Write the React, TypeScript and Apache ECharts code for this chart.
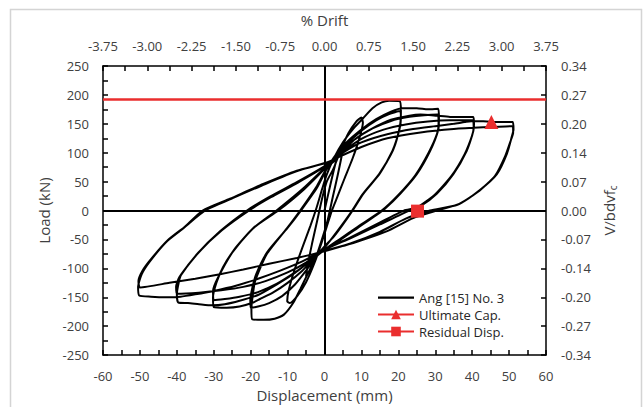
import React, { useEffect, useRef } from "react";
import * as echarts from "echarts";

// ---- data (displacement mm, load kN) ----
const cycle05: [number, number][] = [
  [0, 0], [1.5, 42], [3, 82], [4.3, 104], [5, 112], [4.7, 96], [3.6, 62], [2.2, 22], [0.8, -18],
  [-0.8, -52], [-2.5, -84], [-4, -104], [-5, -114], [-4.6, -96], [-3.4, -58], [-2, -18], [-0.6, 22], [0.6, 50],
];
const cycle10: [number, number][] = [
  [2.4, 72], [4.5, 106], [6.5, 134], [8.5, 153], [10, 161], [10.4, 152], [9.4, 124], [7.6, 90], [5.4, 55],
  [3.5, 24], [2, 0], [0.6, -28], [-0.8, -56], [-2.8, -92], [-5, -124], [-7.4, -148], [-9.4, -160],
  [-10.1, -157], [-9.7, -138], [-8.2, -104], [-6, -64], [-3.8, -26], [-2.2, 4], [-0.6, 38], [0.6, 62],
];
const cycle20a: [number, number][] = [
  [2.5, 90], [5, 118], [8, 143], [10.5, 160], [13, 177], [15.5, 187], [17.5, 190], [20.4, 189], [20.7, 172],
  [20.4, 145], [18.6, 105], [15, 64], [10.5, 29], [7.8, 2], [5, -24], [2.4, -46], [0, -62], [-2, -78],
  [-4.2, -105], [-6.5, -135], [-8.5, -160], [-11, -180], [-13.5, -187], [-16.5, -189], [-19.6, -188],
  [-19.8, -170], [-19.4, -145], [-18.8, -122], [-15.7, -76], [-10.2, -31], [-6.6, 0], [-2, 43], [0.6, 73],
];
const cycle20b: [number, number][] = [
  [3, 88], [6, 114], [10, 138], [14, 156], [17.5, 167], [20.5, 172], [20.7, 160], [20.3, 140], [18.4, 103],
  [14.8, 63], [10.3, 28], [7.5, 0], [4.6, -26], [2, -48], [-0.5, -68], [-2.5, -82], [-5, -104], [-8, -128],
  [-11.5, -148], [-15, -160], [-18, -166], [-20, -168], [-20.1, -155], [-19.6, -135], [-18.5, -110],
  [-15.5, -72], [-10, -30], [-6.4, 0], [-2, 40], [0.6, 72],
];
const cycle30a: [number, number][] = [
  [3, 96], [6, 118], [10, 140], [14, 158], [18, 171], [21, 177], [25, 177], [28, 175], [30.8, 176],
  [31, 160], [30.8, 139], [28.6, 103], [25, 63], [20.5, 29], [16.5, 4], [14, -8], [9, -30], [4, -52],
  [0, -68], [-3, -84], [-6, -104], [-10, -125], [-14, -142], [-17.5, -153], [-19.7, -160], [-23, -166],
  [-26.5, -168], [-30, -167], [-30.2, -150], [-29.3, -125], [-27.5, -98], [-24.8, -71], [-19.4, -31],
  [-13, 0], [-5.8, 38], [0.6, 77],
];
const cycle30b: [number, number][] = [
  [4, 96], [8, 122], [13, 142], [18, 155], [23, 162], [27, 165], [30.7, 166], [30.9, 152], [30.5, 133],
  [28.2, 100], [24.6, 61], [20, 27], [15.5, 0], [9, -28], [4, -50], [-0.5, -70], [-4, -88], [-8, -107],
  [-13, -127], [-18, -141], [-23, -149], [-27, -153], [-30, -155], [-30.2, -140], [-29, -118],
  [-24.5, -68], [-19, -29], [-12.5, 0], [-5.5, 37], [0.6, 76],
];
const cycle40a: [number, number][] = [
  [4, 100], [8, 122], [13, 142], [18, 157], [23, 164], [26, 166], [30.4, 164], [34, 162], [37.5, 162],
  [40.3, 162], [40.5, 150], [40.3, 137], [38.5, 103], [34.9, 63], [30.4, 29], [25.9, 7], [23, 0],
  [15, -24], [7, -48], [0, -68], [-4, -88], [-8, -108], [-13, -128], [-18, -146], [-23, -156], [-27, -162],
  [-30.5, -164], [-34, -162], [-37, -160], [-39.6, -159], [-40, -145], [-39.5, -125], [-38.9, -112],
  [-34.6, -76], [-28.3, -36], [-21, 0], [-14.8, 24], [-7.5, 49], [0.6, 79],
];
const cycle40b: [number, number][] = [
  [5, 102], [10, 124], [16, 140], [22, 149], [28, 154], [34, 156], [40.2, 156], [40.4, 144], [40, 130],
  [38, 98], [34.4, 60], [29.8, 27], [25, 5], [21.5, 0], [14, -24], [6.5, -48], [-0.5, -69], [-5, -90],
  [-10, -107], [-16, -122], [-22, -132], [-28, -138], [-34, -142], [-40, -144], [-40.2, -132],
  [-39.3, -115], [-34.2, -73], [-27.8, -34], [-20.5, 0], [-14.5, 23], [-7.3, 48], [0.6, 78],
];
const cycle50a: [number, number][] = [
  [5, 100], [10, 118], [17, 132], [24, 141], [30, 146], [35, 150], [38, 153], [40.5, 155], [44, 154],
  [48, 153], [51, 153], [51.2, 140], [50.7, 127], [49.4, 98], [46.7, 63], [42, 35], [36.7, 12], [30.5, 0],
  [24, -13], [16.8, -36], [7.8, -56], [-1, -72], [-6, -88], [-12, -104], [-18, -118], [-24, -130],
  [-30, -139], [-35, -145], [-39, -149], [-43, -150], [-47, -149], [-50.2, -147], [-50.5, -132],
  [-49.5, -110], [-47.3, -88], [-42.8, -54], [-38.3, -31], [-33, 0], [-25.6, 20.5], [-16.6, 46],
  [-7.5, 69], [0.6, 83],
];
const cycle50b: [number, number][] = [
  [5, 96], [10, 110], [17, 125], [26, 135], [35, 141], [43, 144], [50.8, 146], [51.1, 134], [50.5, 122],
  [49, 95], [46.2, 60], [41.5, 32], [36, 10], [28.6, 0], [22, -14], [15, -37], [7, -57], [-1, -72],
  [-7.5, -82], [-15, -92], [-22, -102], [-28.3, -110], [-35, -118], [-42, -125], [-50, -133],
  [-50.4, -122], [-49.3, -104], [-47, -84], [-42.4, -51], [-37.8, -28], [-32.4, 0], [-25, 21],
  [-16, 46], [-7, 69], [0.5, 82],
];

const ultimateCap: [number, number][] = [[45.2, 153]];
const residualDisp: [number, number][] = [[25.2, -1]];
const capacityLine = 193;

const driftLabels = ["-3.75", "-3.00", "-2.25", "-1.50", "-0.75", "0.00", "0.75", "1.50", "2.25", "3.00", "3.75"];
const stressLabels = ["-0.34", "-0.27", "-0.20", "-0.14", "-0.07", "0.00", "0.07", "0.14", "0.20", "0.27", "0.34"];

const FONT = "'Open Sans', 'Noto Sans', sans-serif";
const TXT = "#404040";
const RED = "#ea2e2e";

export default function App() {
  const ref = useRef<HTMLDivElement>(null);
  useEffect(() => {
    document.body.style.margin = "0";
    if (!ref.current) return;
    const chart = echarts.init(ref.current, undefined, { renderer: "svg" });
    const hysteresis = [
      ...cycle05, ...cycle10, ...cycle20a, ...cycle20b, ...cycle30a, ...cycle30b,
      ...cycle40a, ...cycle40b, ...cycle50a, ...cycle50b,
    ];
    const tick = { show: true, inside: true, length: 5, lineStyle: { color: "#000", width: 1.5 } };
    const minor = { show: true, splitNumber: 2, length: 5, lineStyle: { color: "#000", width: 1.5 } };
    const axisLine = { show: true, onZero: false, lineStyle: { color: "#000", width: 1.5 } };
    const label = { color: TXT, fontSize: 13, fontFamily: FONT };
    const nameStyle = { color: TXT, fontSize: 15, fontFamily: FONT };
    chart.setOption({
      animation: false,
      backgroundColor: "#fff",
      textStyle: { fontFamily: FONT },
      graphic: [
        {
          type: "rect",
          shape: { x: 10.5, y: 9.5, width: 631, height: 430 },
          style: { fill: "none", stroke: "#d4d4d4", lineWidth: 1.5 },
          silent: true,
        },
      ],
      grid: { left: 103, right: 97, top: 66, bottom: 40, containLabel: false },
      legend: {
        orient: "vertical",
        left: 372,
        top: 286,
        itemWidth: 36,
        itemHeight: 12,
        itemGap: 4,
        textStyle: { fontSize: 13, color: "#262626", fontFamily: FONT },
        data: [
          { name: "Ang [15] No. 3", icon: "path://M0,0 M0,5 L36,5 L36,7.2 L0,7.2 Z M36,12" },
          "Ultimate Cap.",
          "Residual Disp.",
        ],
      },
      xAxis: [
        {
          type: "value",
          position: "bottom",
          min: -60,
          max: 60,
          interval: 10,
          name: "Displacement (mm)",
          nameLocation: "middle",
          nameGap: 30,
          nameTextStyle: nameStyle,
          axisLine,
          axisTick: tick,
          minorTick: minor,
          splitLine: { show: false },
          axisLabel: { ...label, margin: 14 },
        },
        {
          type: "value",
          position: "top",
          min: -60,
          max: 60,
          interval: 12,
          name: "% Drift",
          nameLocation: "middle",
          nameGap: 39,
          nameTextStyle: nameStyle,
          axisLine,
          axisTick: tick,
          minorTick: minor,
          splitLine: { show: false },
          axisLabel: { ...label, margin: 14, formatter: (_v: number, i: number) => driftLabels[i] ?? "" },
        },
      ],
      yAxis: [
        {
          type: "value",
          position: "left",
          min: -250,
          max: 250,
          interval: 50,
          name: "Load (kN)",
          nameLocation: "middle",
          nameGap: 50,
          nameRotate: 90,
          nameTextStyle: nameStyle,
          axisLine,
          axisTick: tick,
          minorTick: minor,
          splitLine: { show: false },
          axisLabel: { ...label, margin: 14 },
        },
        {
          type: "value",
          position: "right",
          min: -250,
          max: 250,
          interval: 50,
          name: "V/bdvf{s|c}",
          nameLocation: "middle",
          nameGap: 54,
          nameRotate: 90,
          nameTextStyle: {
            ...nameStyle,
            rich: { s: { fontSize: 10, color: TXT, fontFamily: FONT, padding: [7, 0, 0, 0] } },
          },
          axisLine,
          axisTick: tick,
          splitLine: { show: false },
          axisLabel: { ...label, margin: 15, formatter: (_v: number, i: number) => stressLabels[i] ?? "" },
        },
      ],
      series: [
        {
          name: "Ang [15] No. 3",
          type: "line",
          xAxisIndex: 0,
          yAxisIndex: 0,
          data: hysteresis,
          symbol: "none",
          smooth: 0.2,
          lineStyle: { color: "#000", width: 2 },
          itemStyle: { color: "#000" },
          markLine: {
            silent: true,
            symbol: ["none", "none"],
            label: { show: false },
            data: [
              { xAxis: 0, lineStyle: { color: "#000", width: 2, type: "solid" } },
              { yAxis: 0, lineStyle: { color: "#000", width: 2, type: "solid" } },
              { yAxis: capacityLine, lineStyle: { color: RED, width: 2.5, type: "solid" } },
            ],
          },
          z: 3,
        },
        {
          name: "Ultimate Cap.",
          type: "line",
          data: ultimateCap,
          symbol: "triangle",
          symbolSize: 14,
          lineStyle: { color: RED, width: 2 },
          itemStyle: { color: RED },
          z: 5,
        },
        {
          name: "Residual Disp.",
          type: "line",
          data: residualDisp,
          symbol: "rect",
          symbolSize: 13,
          lineStyle: { color: RED, width: 2 },
          itemStyle: { color: RED },
          z: 5,
        },
      ],
    });
    return () => chart.dispose();
  }, []);
  return <div ref={ref} style={{ width: 643, height: 407 }} />;
}
